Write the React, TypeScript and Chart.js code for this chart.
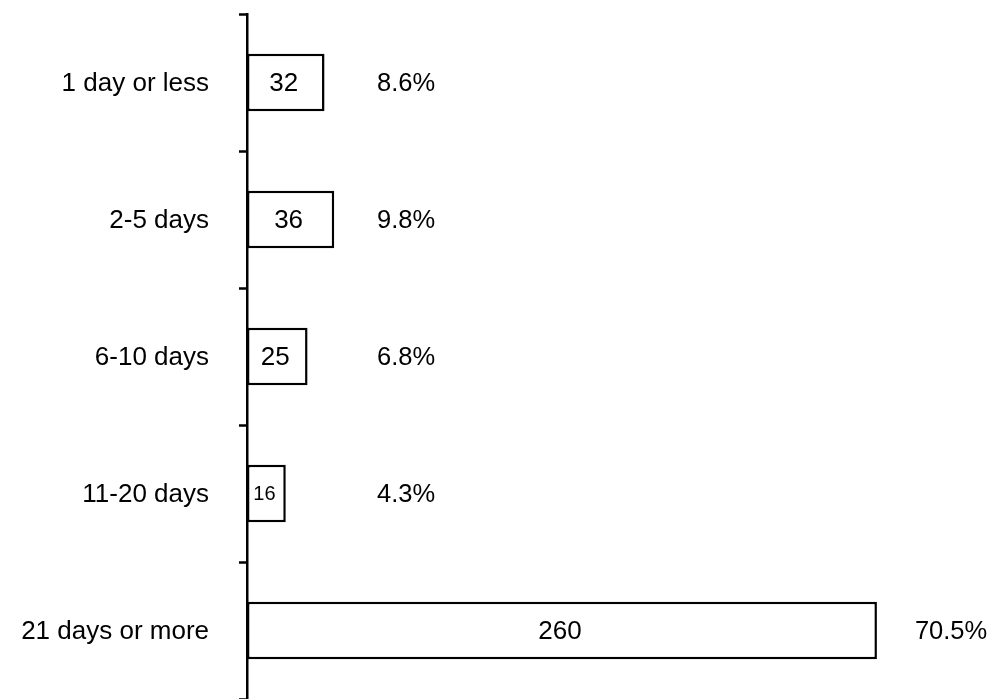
import React, { useEffect, useRef } from "react";
import { Chart, registerables } from "chart.js";

Chart.register(...registerables);

const categories = ["1 day or less", "2-5 days", "6-10 days", "11-20 days", "21 days or more"];
const counts = [32, 36, 25, 16, 260];
const percentLabels = ["8.6%", "9.8%", "6.8%", "4.3%", "70.5%"];

const FONT = "'Liberation Sans', Arial, sans-serif";

const labelPlugin = {
  id: "barLabels",
  afterDatasetsDraw(chart: any) {
    const ctx = chart.ctx;
    const meta = chart.getDatasetMeta(0);
    const area = chart.chartArea;
    const yScale = chart.scales.y;
    ctx.save();
    ctx.fillStyle = "#000";
    ctx.textBaseline = "middle";
    categories.forEach((c, i) => {
      ctx.font = `26px ${FONT}`;
      ctx.textAlign = "right";
      ctx.fillText(c, area.left - 38, yScale.getPixelForValue(i) + 1);
    });
    meta.data.forEach((bar: any, i: number) => {
      const x0 = bar.base;
      const x1 = bar.x;
      const y = bar.y;
      const w = x1 - x0;
      const size = Math.min(26, Math.floor(w * 0.52));
      ctx.font = `${size}px ${FONT}`;
      ctx.textAlign = "center";
      ctx.fillText(String(counts[i]), (x0 + x1) / 2 - 2, y + 1);
      ctx.font = `25.5px ${FONT}`;
      ctx.textAlign = "left";
      const px = Math.max(x1 + 38, area.left + 130);
      ctx.fillText(percentLabels[i], px, y + 1);
    });
    ctx.restore();
  },
};

export default function App() {
  const ref = useRef<HTMLCanvasElement | null>(null);
  useEffect(() => {
    document.body.style.margin = "0";
    const chart = new Chart(ref.current as HTMLCanvasElement, {
      type: "bar",
      data: {
        labels: categories,
        datasets: [
          {
            data: counts,
            backgroundColor: "#ffffff",
            borderColor: "#000000",
            borderWidth: 2.5,
            borderSkipped: false,
            barPercentage: 0.42,
            categoryPercentage: 1,
          },
        ],
      },
      options: {
        indexAxis: "y",
        animation: false,
        responsive: false,
        maintainAspectRatio: false,
        layout: { padding: { top: 14, bottom: 0, left: 0, right: 0 } },
        plugins: { legend: { display: false }, tooltip: { enabled: false } },
        scales: {
          x: {
            display: false,
            min: 0,
            max: 307.5,
          },
          y: {
            offset: true,
            afterFit: (scale: any) => {
              scale.width = 247;
            },
            grid: {
              offset: true,
              drawOnChartArea: false,
              drawTicks: true,
              tickLength: 8,
              tickWidth: 2.5,
              tickColor: "#000",
            },
            border: { display: true, color: "#000", width: 2.5 },
            ticks: {
              display: false,
            },
          },
        },
      },
      plugins: [labelPlugin],
    });
    return () => chart.destroy();
  }, []);
  return (
    <div style={{ width: 992, height: 699 }}>
      <canvas ref={ref} width={992} height={699} style={{ display: "block" }} />
    </div>
  );
}
